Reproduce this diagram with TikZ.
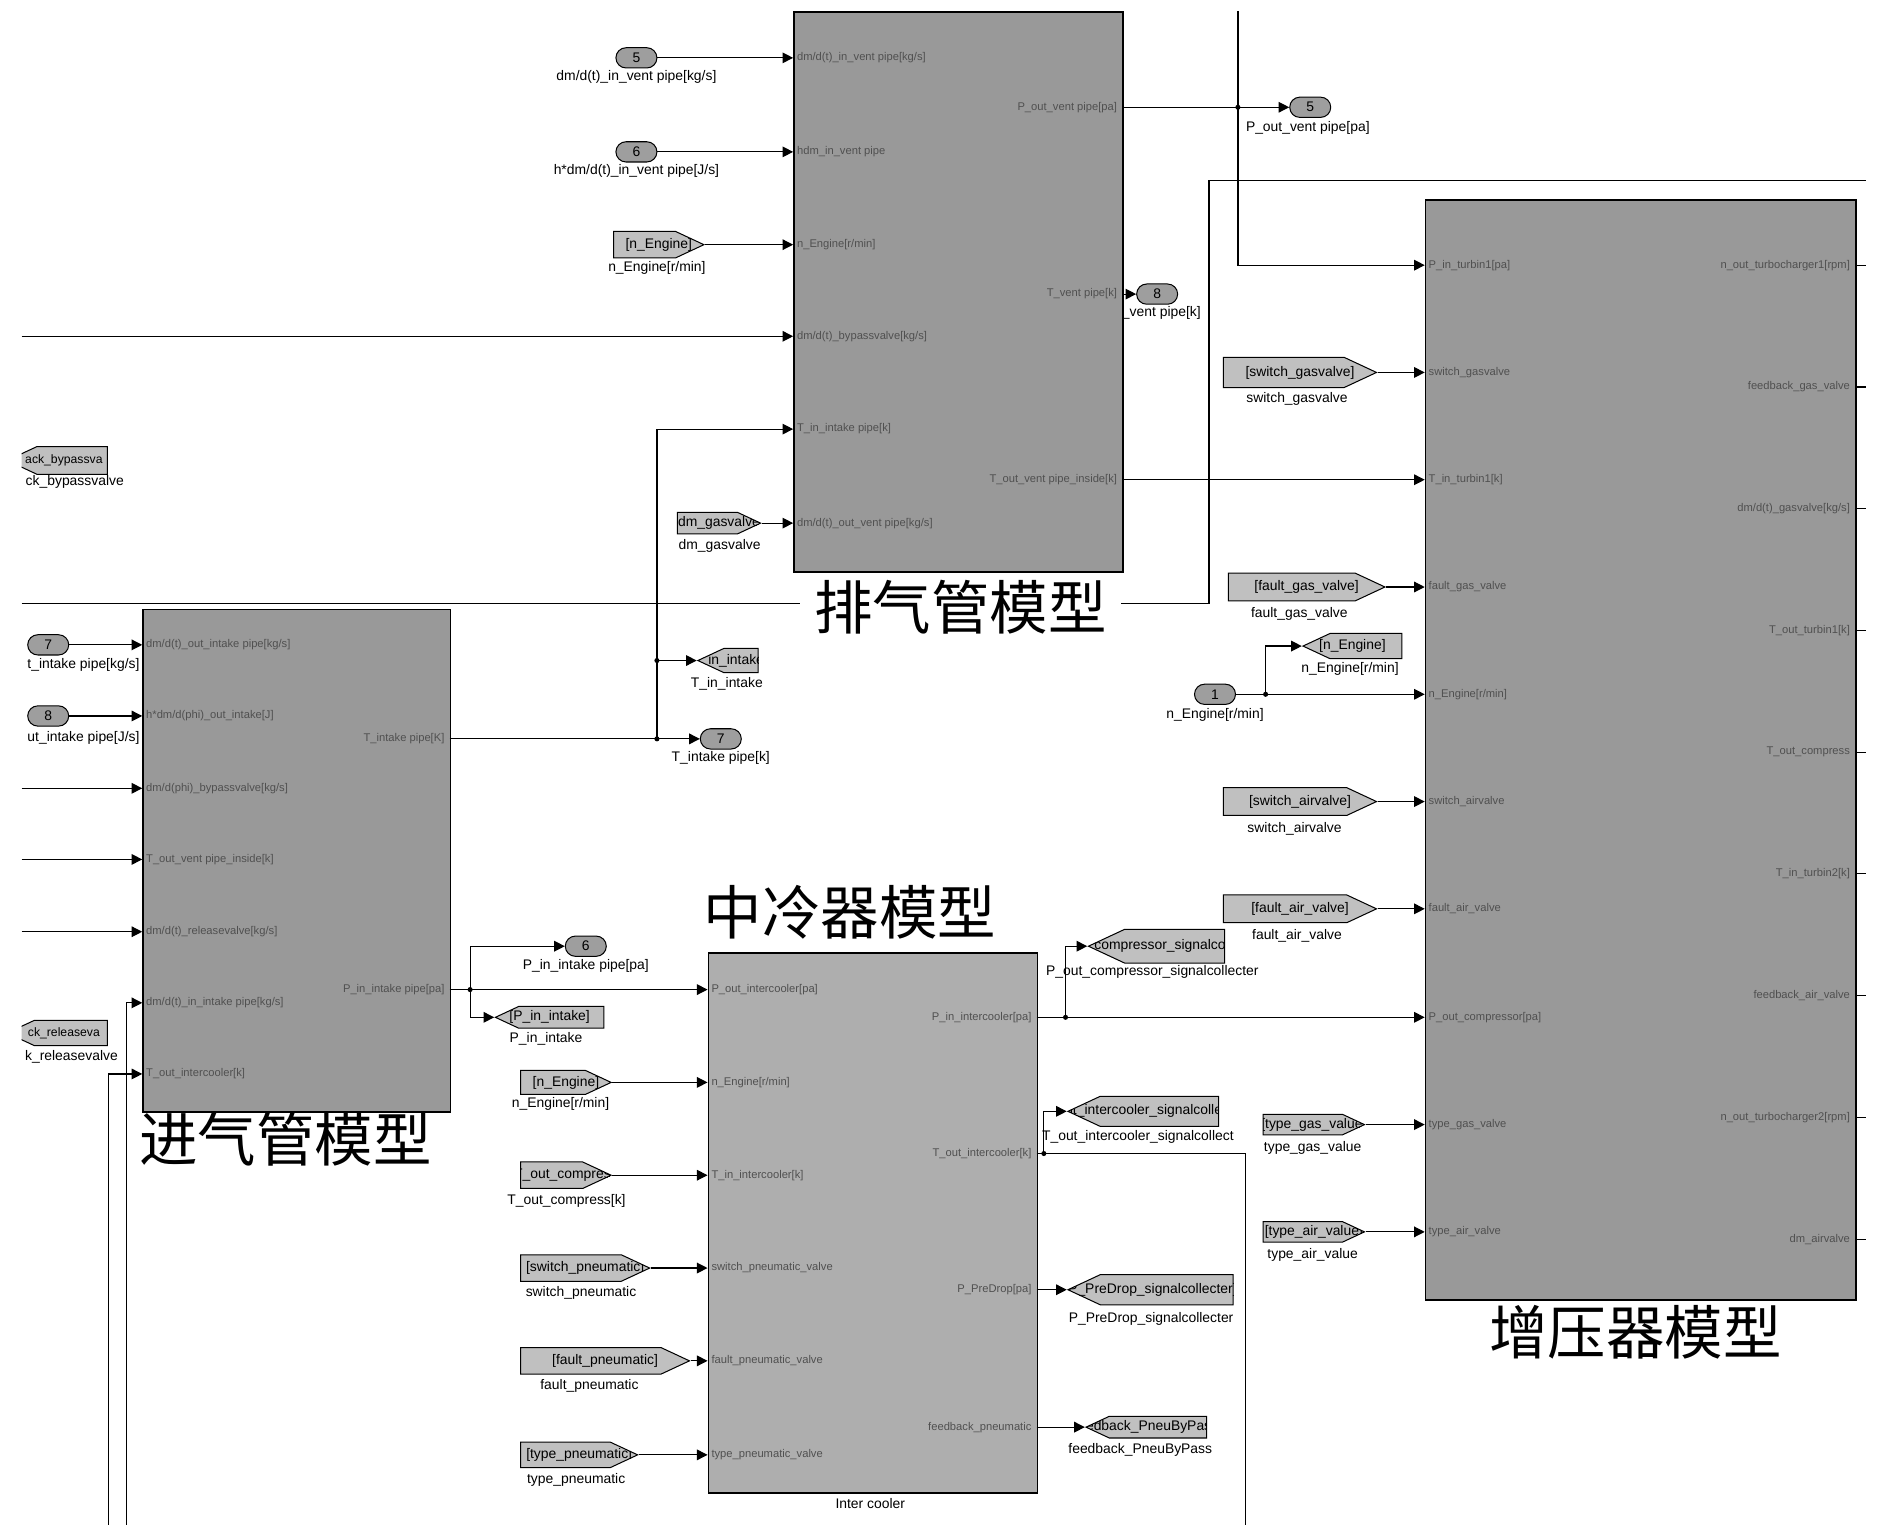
\documentclass[tikz,border=0pt]{standalone}
\usepackage{fontspec}
\setmainfont{Liberation Sans}
\newfontfamily\cjk{Noto Sans CJK SC}
\usetikzlibrary{shapes.symbols,shapes.misc,arrows.meta}
\definecolor{blockgray}{RGB}{153,153,153}
\definecolor{icgray}{RGB}{174,174,174}
\definecolor{taggray}{RGB}{192,192,192}
\definecolor{ovalgray}{RGB}{158,158,158}
\definecolor{portgray}{RGB}{80,80,80}
\def\pxu{0.025cm}
\newcommand\lblfont{\fontsize{8.2}{9}\selectfont}
\newcommand\portfont{\fontsize{6.6}{7}\selectfont}
\tikzset{
  wire/.style={line width=0.7pt, draw=black},
  arr/.style={wire, -{Triangle[length=2.2mm,width=2.2mm]}},
  blk/.style={draw=black, line width=1pt, fill=blockgray, inner sep=0pt, anchor=north west},
  portL/.style={anchor=west, font=\portfont, text=portgray, inner sep=0pt},
  portR/.style={anchor=east, font=\portfont, text=portgray, inner sep=0pt},
  lbl/.style={font=\lblfont, inner sep=0pt},
  oval/.style={rounded rectangle, draw=black, line width=0.6pt, fill=ovalgray, minimum width=0.85cm, minimum height=0.42cm, inner sep=0pt, font=\lblfont},
  tagR/.style={signal, signal to=east, signal pointer angle=50, draw=black, line width=0.6pt, fill=taggray, inner sep=0pt, anchor=east,
    path picture={\node[lbl, anchor=center] at (path picture bounding box.center) {#1};}},
  tagL/.style={signal, signal to=west, signal pointer angle=50, draw=black, line width=0.6pt, fill=taggray, inner sep=0pt, anchor=west,
    path picture={\node[lbl, anchor=center] at (path picture bounding box.center) {#1};}},
  title/.style={font=\cjk\fontsize{34.5}{38}\selectfont, inner sep=1pt},
  dot/.style={circle, fill=black, inner sep=0pt, minimum size=3pt},
}
\begin{document}
\begin{tikzpicture}[x=0.025cm,y=-0.025cm]
\useasboundingbox[fill=white] (0,0) rectangle (1568,1273);
\begin{scope}
\clip (18,9) rectangle (1548,1265);
% label hidden partly behind the exhaust block
\node[lbl] (lout8) at (960,260) {T\_vent pipe[k]};
% long line behind exhaust title
\coordinate (L501) at (18,501);
\coordinate (K1003) at (1003,150);
\coordinate (R150) at (1548,150);
\draw[wire] (L501) -| (K1003) -- (R150);
% ---------------- blocks
\node[blk, minimum width=273*\pxu, minimum height=465*\pxu] (exh) at (658,9) {};
\node[blk, minimum width=357*\pxu, minimum height=913*\pxu] (tur) at (1182,165) {};
\node[blk, minimum width=255*\pxu, minimum height=417*\pxu] (int) at (118,505) {};
\node[blk, fill=icgray, minimum width=273*\pxu, minimum height=448*\pxu] (ic) at (587,790) {};
% ---------------- titles
\node[title, fill=white, inner xsep=0.3cm] (tEx) at (797,504) {排气管模型};
\node[title] (tIn) at (237,945) {进气管模型};
\node[title] (tIc) at (705,757) {中冷器模型};
\node[title] (tTu) at (1357,1105) {增压器模型};
\node[lbl] (icName) at (722,1247) {Inter cooler};
% ---------------- port labels: exhaust
\node[portL] (pe1) at (661,48) {dm/d(t)\_in\_vent pipe[kg/s]};
\node[portL] (pe2) at (661,126) {hdm\_in\_vent pipe};
\node[portL] (pe3) at (661,203) {n\_Engine[r/min]};
\node[portL] (pe4) at (661,279) {dm/d(t)\_bypassvalve[kg/s]};
\node[portL] (pe5) at (661,356) {T\_in\_intake pipe[k]};
\node[portL] (pe6) at (661,434) {dm/d(t)\_out\_vent pipe[kg/s]};
\node[portR] (pe7) at (927,89) {P\_out\_vent pipe[pa]};
\node[portR] (pe8) at (927,244) {T\_vent pipe[k]};
\node[portR] (pe9) at (927,398) {T\_out\_vent pipe\_inside[k]};
% intake
\node[portL] (pi1) at (121,535) {dm/d(t)\_out\_intake pipe[kg/s]};
\node[portL] (pi2) at (121,594) {h*dm/d(phi)\_out\_intake[J]};
\node[portL] (pi3) at (121,654) {dm/d(phi)\_bypassvalve[kg/s]};
\node[portL] (pi4) at (121,713) {T\_out\_vent pipe\_inside[k]};
\node[portL] (pi5) at (121,773) {dm/d(t)\_releasevalve[kg/s]};
\node[portL] (pi6) at (121,832) {dm/d(t)\_in\_intake pipe[kg/s]};
\node[portL] (pi7) at (121,891) {T\_out\_intercooler[k]};
\node[portR] (pi8) at (369,613) {T\_intake pipe[K]};
\node[portR] (pi9) at (369,821) {P\_in\_intake pipe[pa]};
% intercooler
\node[portL] (pc1) at (590,821) {P\_out\_intercooler[pa]};
\node[portL] (pc2) at (590,898) {n\_Engine[r/min]};
\node[portL] (pc3) at (590,975) {T\_in\_intercooler[k]};
\node[portL] (pc4) at (590,1052) {switch\_pneumatic\_valve};
\node[portL] (pc5) at (590,1129) {fault\_pneumatic\_valve};
\node[portL] (pc6) at (590,1207) {type\_pneumatic\_valve};
\node[portR] (pc7) at (856,844) {P\_in\_intercooler[pa]};
\node[portR] (pc8) at (856,957) {T\_out\_intercooler[k]};
\node[portR] (pc9) at (856,1070) {P\_PreDrop[pa]};
\node[portR] (pc10) at (856,1184) {feedback\_pneumatic};
% turbo
\node[portL] (pt1) at (1185,220) {P\_in\_turbin1[pa]};
\node[portL] (pt2) at (1185,309) {switch\_gasvalve};
\node[portL] (pt3) at (1185,398) {T\_in\_turbin1[k]};
\node[portL] (pt4) at (1185,487) {fault\_gas\_valve};
\node[portL] (pt5) at (1185,576) {n\_Engine[r/min]};
\node[portL] (pt6) at (1185,665) {switch\_airvalve};
\node[portL] (pt7) at (1185,754) {fault\_air\_valve};
\node[portL] (pt8) at (1185,844) {P\_out\_compressor[pa]};
\node[portL] (pt9) at (1185,933) {type\_gas\_valve};
\node[portL] (pt10) at (1185,1022) {type\_air\_valve};
\node[portR] (pt11) at (1535,220) {n\_out\_turbocharger1[rpm]};
\node[portR] (pt12) at (1535,321) {feedback\_gas\_valve};
\node[portR] (pt13) at (1535,422) {dm/d(t)\_gasvalve[kg/s]};
\node[portR] (pt14) at (1535,523) {T\_out\_turbin1[k]};
\node[portR] (pt15) at (1535,624) {T\_out\_compress};
\node[portR] (pt16) at (1535,725) {T\_in\_turbin2[k]};
\node[portR] (pt17) at (1535,826) {feedback\_air\_valve};
\node[portR] (pt18) at (1535,927) {n\_out\_turbocharger2[rpm]};
\node[portR] (pt19) at (1535,1028) {dm\_airvalve};
% ---------------- port coordinates
\coordinate (exhI1) at (658,48);  \coordinate (exhI2) at (658,126);
\coordinate (exhI3) at (658,203); \coordinate (exhI4) at (658,279);
\coordinate (exhI5) at (658,356); \coordinate (exhI6) at (658,434);
\coordinate (exhO1) at (931,89);  \coordinate (exhO2) at (931,244);
\coordinate (exhO3) at (931,398);
\coordinate (intI1) at (118,535); \coordinate (intI2) at (118,594);
\coordinate (intI3) at (118,654); \coordinate (intI4) at (118,713);
\coordinate (intI5) at (118,773); \coordinate (intI6) at (118,832);
\coordinate (intI7) at (118,891);
\coordinate (intO1) at (373,613); \coordinate (intO2) at (373,821);
\coordinate (icI1) at (587,821); \coordinate (icI2) at (587,898);
\coordinate (icI3) at (587,975); \coordinate (icI4) at (587,1052);
\coordinate (icI5) at (587,1129); \coordinate (icI6) at (587,1207);
\coordinate (icO1) at (860,844); \coordinate (icO2) at (860,957);
\coordinate (icO3) at (860,1070); \coordinate (icO4) at (860,1184);
\coordinate (turI1) at (1182,220); \coordinate (turI2) at (1182,309);
\coordinate (turI3) at (1182,398); \coordinate (turI4) at (1182,487);
\coordinate (turI5) at (1182,576); \coordinate (turI6) at (1182,665);
\coordinate (turI7) at (1182,754); \coordinate (turI8) at (1182,844);
\coordinate (turI9) at (1182,933); \coordinate (turI10) at (1182,1022);
% ---------------- ovals (in/out ports)
\node[oval] (in5) at (528,48) {5};
\node[oval] (in6) at (528,126) {6};
\node[oval] (out5) at (1087,89) {5};
\node[oval] (out8) at (960,244) {8};
\node[oval] (out7) at (598,613) {7};
\node[oval] (out6) at (486,785) {6};
\node[oval] (in1) at (1008,576) {1};
\node[oval] (in7) at (40,535) {7};
\node[oval] (in8) at (40,594) {8};
\node[lbl] (lin5) at (528,64) {dm/d(t)\_in\_vent pipe[kg/s]};
\node[lbl] (lin6) at (528,142) {h*dm/d(t)\_in\_vent pipe[J/s]};
\node[lbl] (lout5) at (1085,106) {P\_out\_vent pipe[pa]};
\node[lbl] (lout7) at (598,629) {T\_intake pipe[k]};
\node[lbl] (lout6) at (486,801) {P\_in\_intake pipe[pa]};
\node[lbl] (lin1) at (1008,593) {n\_Engine[r/min]};
\node[lbl, anchor=east] (lin7) at (116,552) {t\_intake pipe[kg/s]};
\node[lbl, anchor=east] (lin8) at (116,612) {ut\_intake pipe[J/s]};
% ---------------- tags (placed by their tips)
\node[tagR={[n\_Engine]}, minimum width=75*\pxu, minimum height=22*\pxu] (tNE1) at (585,203) {};
\node[tagR={[dm\_gasvalve]}, minimum width=69*\pxu, minimum height=18*\pxu] (tDM) at (632,434) {};
\node[tagR={[switch\_gasvalve]}, minimum width=127*\pxu, minimum height=25*\pxu] (tSGV) at (1143,309) {};
\node[tagR={[fault\_gas\_valve]}, minimum width=130*\pxu, minimum height=23*\pxu] (tFGV) at (1150,487) {};
\node[tagR={[switch\_airvalve]}, minimum width=127*\pxu, minimum height=23*\pxu] (tSAV) at (1143,665) {};
\node[tagR={[fault\_air\_valve]}, minimum width=127*\pxu, minimum height=23*\pxu] (tFAV) at (1143,754) {};
\node[tagR={[type\_gas\_value]}, minimum width=84*\pxu, minimum height=17*\pxu] (tTGV) at (1133,933) {};
\node[tagR={[type\_air\_value]}, minimum width=84*\pxu, minimum height=17*\pxu] (tTAV) at (1133,1022) {};
\node[tagR={[n\_Engine]}, minimum width=75*\pxu, minimum height=20*\pxu] (tNE3) at (508,898) {};
\node[tagR={[T\_out\_compress]}, minimum width=75*\pxu, minimum height=22*\pxu] (tTOC) at (508,975) {};
\node[tagR={[switch\_pneumatic]}, minimum width=107*\pxu, minimum height=22*\pxu] (tSP) at (540,1052) {};
\node[tagR={[fault\_pneumatic]}, minimum width=140*\pxu, minimum height=22*\pxu] (tFP) at (573,1129) {};
\node[tagR={[type\_pneumatic]}, minimum width=97*\pxu, minimum height=21*\pxu] (tTP) at (530,1207) {};
\node[tagL={[n\_Engine]}, minimum width=82*\pxu, minimum height=21*\pxu] (tNE2) at (1080,536) {};
\node[tagL={[P\_out\_compressor\_signalcollecter]}, minimum width=113*\pxu, minimum height=28*\pxu] (tPOC) at (902,785) {};
\node[tagL={[T\_out\_intercooler\_signalcollecter]}, minimum width=125*\pxu, minimum height=25*\pxu] (tTOI) at (885,922) {};
\node[tagL={[P\_PreDrop\_signalcollecter]}, minimum width=137*\pxu, minimum height=25*\pxu] (tPPD) at (885,1070) {};
\node[tagL={[feedback\_PneuByPass]}, minimum width=100*\pxu, minimum height=18*\pxu] (tFPB) at (900,1184) {};
\node[tagL={[T\_in\_intake]}, minimum width=50*\pxu, minimum height=20*\pxu] (tTII) at (578,548) {};
\node[tagL={[P\_in\_intake]}, minimum width=90*\pxu, minimum height=18*\pxu] (tPII) at (410,844) {};
\node[tagL={}, minimum width=83*\pxu, minimum height=23*\pxu] (tFBV) at (5,382) {};
\node[tagL={}, minimum width=83*\pxu, minimum height=21*\pxu] (tFRV) at (5,857) {};
\node[lbl, font=\fontsize{7.2}{8}\selectfont] (xFBV) at (53,382) {ack\_bypassva};
\node[lbl, font=\fontsize{7.2}{8}\selectfont] (xFRV) at (53,857) {ck\_releaseva};
% tag labels
\node[lbl] (ltNE1) at (545,222) {n\_Engine[r/min]};
\node[lbl] (ltDM) at (597,453) {dm\_gasvalve};
\node[lbl] (ltSGV) at (1076,331) {switch\_gasvalve};
\node[lbl] (ltFGV) at (1078,509) {fault\_gas\_valve};
\node[lbl] (ltNE2) at (1120,555) {n\_Engine[r/min]};
\node[lbl] (ltSAV) at (1074,688) {switch\_airvalve};
\node[lbl] (ltFAV) at (1076,776) {fault\_air\_valve};
\node[lbl] (ltTGV) at (1089,952) {type\_gas\_value};
\node[lbl] (ltTAV) at (1089,1041) {type\_air\_value};
\node[lbl] (ltPOC) at (956,806) {P\_out\_compressor\_signalcollecter};
\node[lbl] (ltTOI) at (944,943) {T\_out\_intercooler\_signalcollect};
\node[lbl] (ltPPD) at (955,1094) {P\_PreDrop\_signalcollecter};
\node[lbl] (ltFPB) at (946,1203) {feedback\_PneuByPass};
\node[lbl] (ltTII) at (603,567) {T\_in\_intake};
\node[lbl] (ltPII) at (453,862) {P\_in\_intake};
\node[lbl] (ltNE3) at (465,916) {n\_Engine[r/min]};
\node[lbl] (ltTOC) at (470,996) {T\_out\_compress[k]};
\node[lbl] (ltSP) at (482,1073) {switch\_pneumatic};
\node[lbl] (ltFP) at (489,1150) {fault\_pneumatic};
\node[lbl] (ltTP) at (478,1228) {type\_pneumatic};
\node[lbl, anchor=east] (ltFBV) at (103,400) {ck\_bypassvalve};
\node[lbl, anchor=east] (ltFRV) at (98,877) {k\_releasevalve};
% ---------------- junctions
\node[dot] (jA) at (545,548) {};
\node[dot] (jB) at (545,613) {};
\node[dot] (jC) at (1027,89) {};
\node[dot] (jD) at (1050,576) {};
\node[dot] (jE) at (884,844) {};
\node[dot] (jF) at (390,821) {};
\node[dot] (jG) at (866,957) {};
% ---------------- free ends
\coordinate (L279) at (18,279);
\coordinate (L654) at (18,654);
\coordinate (L713) at (18,713);
\coordinate (L773) at (18,773);
\coordinate (T1027) at (1027,9);
\coordinate (B105) at (105,1265);
\coordinate (B90) at (90,1265);
\coordinate (B1033) at (1033,1265);
% ---------------- connectors: exhaust
\draw[arr] (in5.east) -- (exhI1);
\draw[arr] (in6.east) -- (exhI2);
\draw[arr] (tNE1.east) -- (exhI3);
\draw[arr] (L279) -- (exhI4);
\draw[arr] (jB.center) |- (exhI5);
\draw[arr] (tDM.east) -- (exhI6);
\draw[arr] (exhO1) -- (out5.west);
\draw[arr] (T1027) |- (turI1);
\draw[arr] (exhO2) -- (out8.west);
\draw[arr] (exhO3) -- (turI3);
% turbo inputs
\draw[arr] (tSGV.east) -- (turI2);
\draw[arr] (tFGV.east) -- (turI4);
\draw[arr] (in1.east) -- (turI5);
\draw[arr] (jD.center) |- (tNE2.west);
\draw[arr] (tSAV.east) -- (turI6);
\draw[arr] (tFAV.east) -- (turI7);
\draw[arr] (icO1) -- (turI8);
\draw[arr] (jE.center) |- (tPOC.west);
\draw[arr] (tTGV.east) -- (turI9);
\draw[arr] (tTAV.east) -- (turI10);
% turbo output stubs
\foreach \n in {11,...,19}{\draw[wire] (pt\n.east) ++(4,0) -- ++(9,0);}
% intake
\draw[arr] (in7.east) -- (intI1);
\draw[arr] (in8.east) -- (intI2);
\draw[arr] (L654) -- (intI3);
\draw[arr] (L713) -- (intI4);
\draw[arr] (L773) -- (intI5);
\draw[arr] (B105) |- (intI6);
\draw[arr] (B90) |- (intI7);
\draw[arr] (intO1) -- (out7.west);
\draw[arr] (jA.center) -- (tTII.west);
\draw[arr] (intO2) -- (icI1);
\draw[arr] (jF.center) |- (out6.west);
\draw[arr] (jF.center) |- (tPII.west);
% intercooler
\draw[arr] (tNE3.east) -- (icI2);
\draw[arr] (tTOC.east) -- (icI3);
\draw[arr] (tSP.east) -- (icI4);
\draw[arr] (tFP.east) -- (icI5);
\draw[arr] (tTP.east) -- (icI6);
\draw[wire] (icO2) -| (B1033);
\draw[arr] (jG.center) |- (tTOI.west);
\draw[arr] (icO3) -- (tPPD.west);
\draw[arr] (icO4) -- (tFPB.west);
\end{scope}
\end{tikzpicture}
\end{document}
